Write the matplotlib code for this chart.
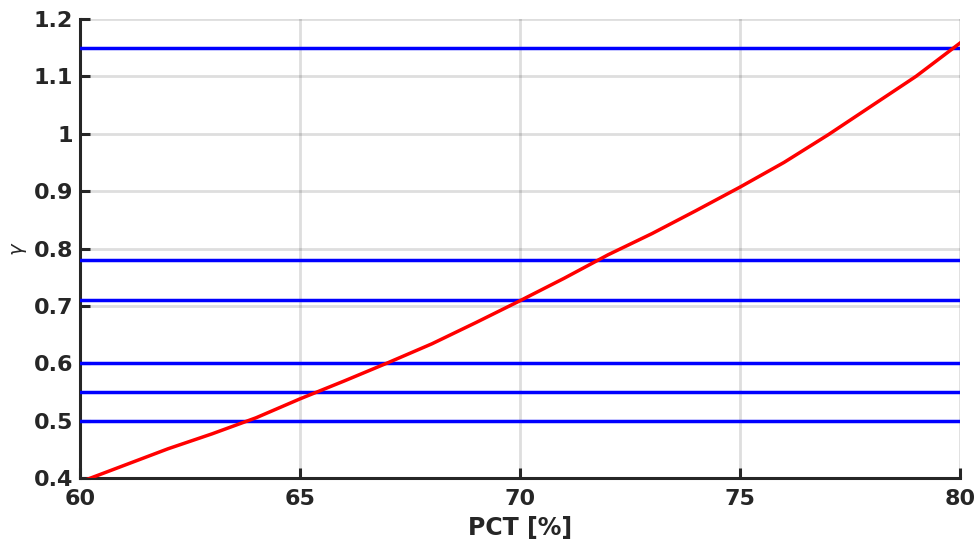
import numpy as np
import matplotlib
matplotlib.use('Agg')
from matplotlib import pyplot as plt

# gamma vs PCT curve
pct = [60, 61, 62, 63, 64, 65, 66, 67, 68, 69, 70,
       71, 72, 73, 74, 75, 76, 77, 78, 79, 80]
gamma = [0.393, 0.422, 0.451, 0.477, 0.505, 0.538, 0.569, 0.601, 0.634, 0.671, 0.709,
         0.748, 0.789, 0.826, 0.866, 0.907, 0.950, 0.998, 1.049, 1.100, 1.158]

# reference levels
levels = [1.15, 0.78, 0.71, 0.60, 0.55, 0.50]

xticks = [60, 65, 70, 75, 80]
yticks = [0.4, 0.5, 0.6, 0.7, 0.8, 0.9, 1.0, 1.1, 1.2]
ytick_labels = ['0.4', '0.5', '0.6', '0.7', '0.8', '0.9', '1', '1.1', '1.2']

dark = '#262626'

fig = plt.figure(figsize=(9.76, 5.42), dpi=100)
ax = fig.add_axes([0.082, 0.118, 0.9016, 0.847])

for g in levels:
    ax.axhline(g, color='#0000ff', lw=2.5, zorder=3)
ax.plot(pct, gamma, color='#ff0000', lw=2.5, zorder=4)

ax.set_xlim(60, 80)
ax.set_ylim(0.4, 1.2)
ax.set_xticks(xticks)
ax.set_yticks(yticks)
ax.set_yticklabels(ytick_labels)

ax.grid(True, color='black', alpha=0.13, lw=2)
ax.set_axisbelow(True)

for s in ['top', 'right']:
    ax.spines[s].set_visible(False)
for s in ['left', 'bottom']:
    ax.spines[s].set_color(dark)
    ax.spines[s].set_linewidth(2.2)

ax.tick_params(direction='in', length=7, width=2.2, colors=dark, labelsize=16)
ax.tick_params(axis='x', pad=8)
ax.tick_params(axis='y', pad=5)
for lab in ax.get_xticklabels() + ax.get_yticklabels():
    lab.set_fontweight('bold')

ax.set_xlabel('PCT [%]', fontsize=17, fontweight='bold', color=dark, labelpad=5)
ax.set_ylabel(r'$\gamma$', fontsize=14, color=dark, labelpad=3)

fig.savefig('out.png', dpi=100)
